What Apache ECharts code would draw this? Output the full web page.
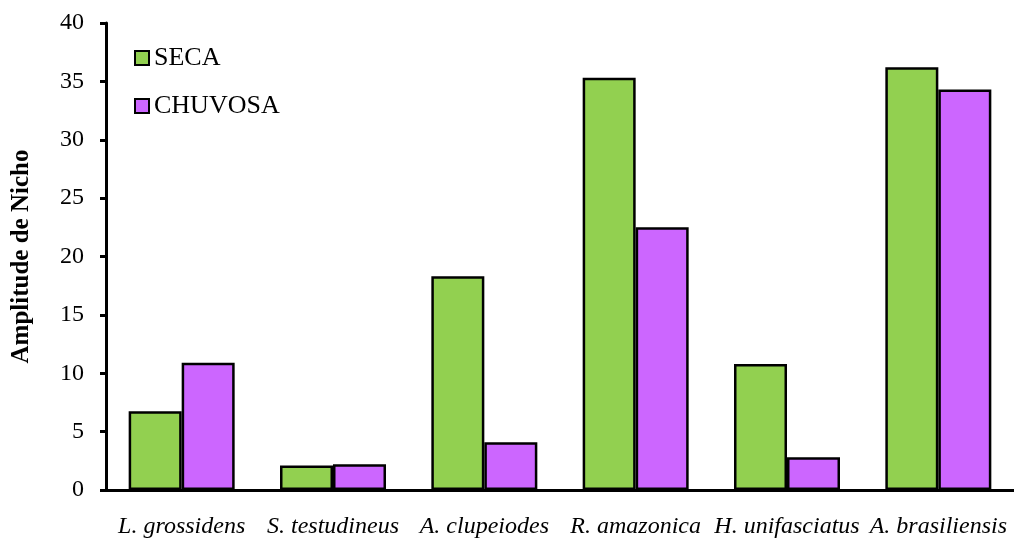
<!DOCTYPE html>
<html>
<head>
<meta charset="utf-8">
<script src="https://cdn.jsdelivr.net/npm/echarts@6/dist/echarts.min.js"></script>
<style>html,body{margin:0;padding:0;background:#fff}#c{width:1014px;height:539px}</style>
</head>
<body>
<div id="c"></div>
<script>
const categories = ['L. grossidens', 'S. testudineus', 'A. clupeiodes', 'R. amazonica', 'H. unifasciatus', 'A. brasiliensis'];
const seca = [6.75, 2.1, 18.3, 35.3, 10.8, 36.2];
const chuvosa = [10.9, 2.2, 4.1, 22.5, 2.8, 34.3];
const yTicks = [0, 5, 10, 15, 20, 25, 30, 35, 40];

const chart = echarts.init(document.getElementById('c'));
const font = 'Liberation Serif';
const legendText = { fontFamily: font, fontSize: 26, color: '#000', padding: [0,0,0,0] };
chart.setOption({
  animation: false,
  textStyle: { fontFamily: font },
  grid: { left: 106, right: -9, top: 23, bottom: 49 },
  legend: [
    { left: 129, top: 40, itemWidth: 14, itemHeight: 14, icon: 'rect', textStyle: legendText, data: ['SECA'],
      itemStyle: { borderWidth: 2 } },
    { left: 129, top: 88, itemWidth: 14, itemHeight: 14, icon: 'rect', textStyle: legendText, data: ['CHUVOSA'],
      itemStyle: { borderWidth: 2 } }
  ],
  xAxis: {
    type: 'category', data: categories,
    axisLine: { lineStyle: { color: '#000', width: 3 } },
    axisTick: { length: 6, lineStyle: { color: '#000', width: 3 } },
    axisLabel: { fontFamily: font, fontStyle: 'italic', fontSize: 24, color: '#000', margin: 25, interval: 0 }
  },
  yAxis: {
    type: 'value', min: yTicks[0], max: yTicks[yTicks.length-1], interval: 5,
    name: 'Amplitude de Nicho', nameLocation: 'middle', nameGap: 72,
    nameTextStyle: { fontFamily: font, fontWeight: 'bold', fontSize: 25, color: '#000' },
    splitLine: { show: false },
    axisLine: { show: true, lineStyle: { color: '#000', width: 3 } },
    axisTick: { show: true, length: 6, lineStyle: { color: '#000', width: 3 } },
    axisLabel: { fontFamily: font, fontSize: 24, color: '#000', margin: 22 }
  },
  series: [
    { name: 'SECA', type: 'bar', data: seca, barWidth: 53, barGap: '0%',
      itemStyle: { color: '#92D050', borderColor: '#000', borderWidth: 2.5 } },
    { name: 'CHUVOSA', type: 'bar', data: chuvosa, barWidth: 53, barGap: '0%',
      itemStyle: { color: '#CC66FF', borderColor: '#000', borderWidth: 2.5 } }
  ]
});
</script>
</body>
</html>
